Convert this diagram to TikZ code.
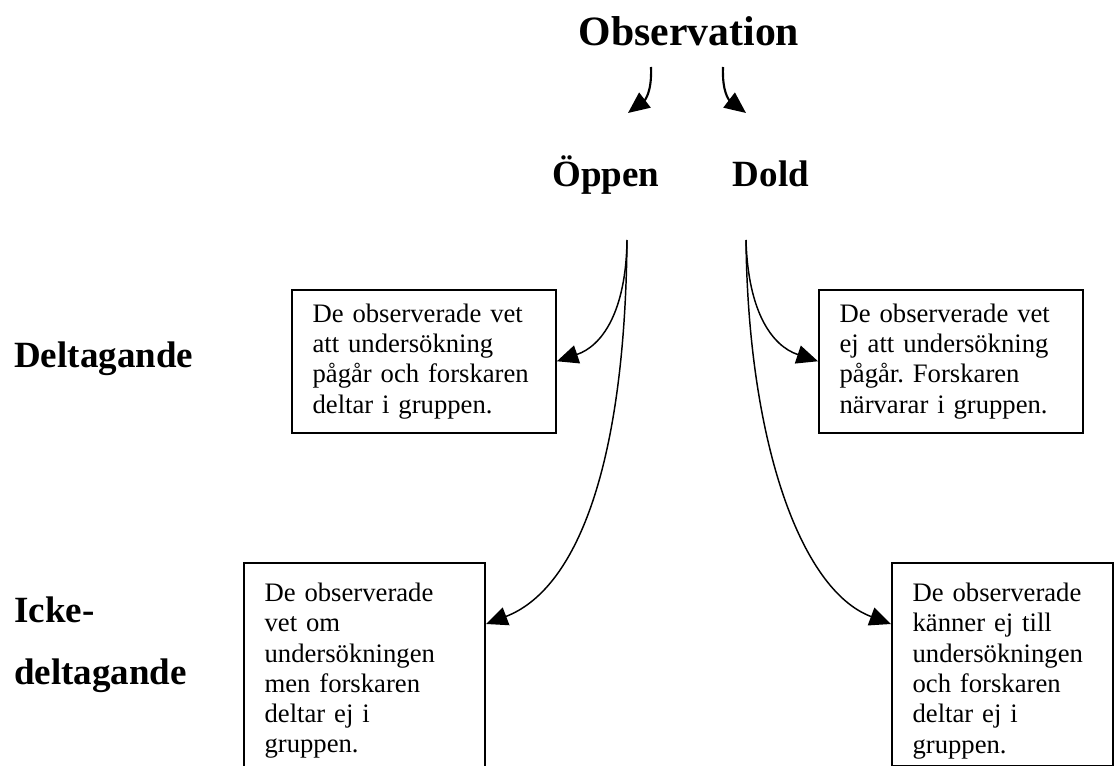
\documentclass[tikz,border=0pt]{standalone}
\usepackage{fontspec}
\setmainfont{Liberation Serif}
\usetikzlibrary{arrows.meta,calc}
\definecolor{linkblack}{RGB}{0,0,0}
\frenchspacing

\begin{document}
\begin{tikzpicture}[x=0.75pt,y=-0.75pt,
    head/.style={font=\fontsize{27.75}{30}\selectfont\bfseries, anchor=base, inner sep=0pt},
    side/.style={font=\fontsize{27.75}{30}\selectfont\bfseries, anchor=base west, inner sep=0pt},
    infobox/.style={draw, line width=1.4pt, anchor=north west, align=left,
      font=\fontsize{20}{22.7}\selectfont, inner xsep=15.5pt, inner ysep=4pt},
    toparrow/.style={linkblack, line width=1.6pt, -{Triangle[length=16pt,width=14pt]}},
    curvearrow/.style={linkblack, line width=1.1pt, -{Triangle[length=16pt,width=14pt]}}]
  \useasboundingbox (0,0) rectangle (1117,766);
  % titles
  \node[head, font=\fontsize{31.3}{34}\selectfont\bfseries] (obs) at (689,46) {Observation};
  \node[head] (open) at (606,187) {Öppen};
  \node[head] (hidden) at (771,187) {Dold};
  \node[side] (part) at (14,368) {Deltagande};
  \node[side] (nonpart1) at (14,622) {Icke-};
  \node[side] (nonpart2) at (14,684) {deltagande};
  % boxes
  \node[infobox, text width=167pt, minimum height=107pt] (b1) at (291,289)
    {De observerade vet\\att undersökning\\pågår och forskaren\\deltar i gruppen.};
  \node[infobox, text width=167pt, minimum height=107pt] (b2) at (818,289)
    {De observerade vet\\ej att undersökning\\pågår. Forskaren\\närvarar i gruppen.};
  \node[infobox, text width=150pt, minimum height=162pt] (b3) at (243,562)
    {De observerade\\vet om\\undersökningen\\men forskaren\\deltar ej i\\gruppen.};
  \node[infobox, text width=135pt, minimum height=152pt] (b4) at (891,562)
    {\rule{0pt}{24pt}De observerade\\känner ej till\\undersökningen\\och forskaren\\deltar ej i\\gruppen.};
  % start points
  \coordinate (obsL) at (651,67);
  \coordinate (obsR) at (723,67);
  \coordinate (openS) at (627,240);
  \coordinate (hiddenS) at (746,240);
  \coordinate (b3in) at ($(b3.north east)+(0,62)$);
  \coordinate (b4in) at ($(b4.north west)+(0,62)$);
  % arrows
  \draw[toparrow] (obsL) .. controls (652,92) and (645,100) .. (628,113);
  \draw[toparrow] (obsR) .. controls (722,92) and (729,100) .. (746,113);
  \draw[curvearrow] (openS) .. controls (626,312) and (602,346) .. (b1.east);
  \draw[curvearrow] (openS) .. controls (625,470) and (575,590) .. (b3in);
  \draw[curvearrow] (hiddenS) .. controls (748,312) and (772,346) .. (b2.west);
  \draw[curvearrow] (hiddenS) .. controls (748,440) and (800,590) .. (b4in);
\end{tikzpicture}
\end{document}
